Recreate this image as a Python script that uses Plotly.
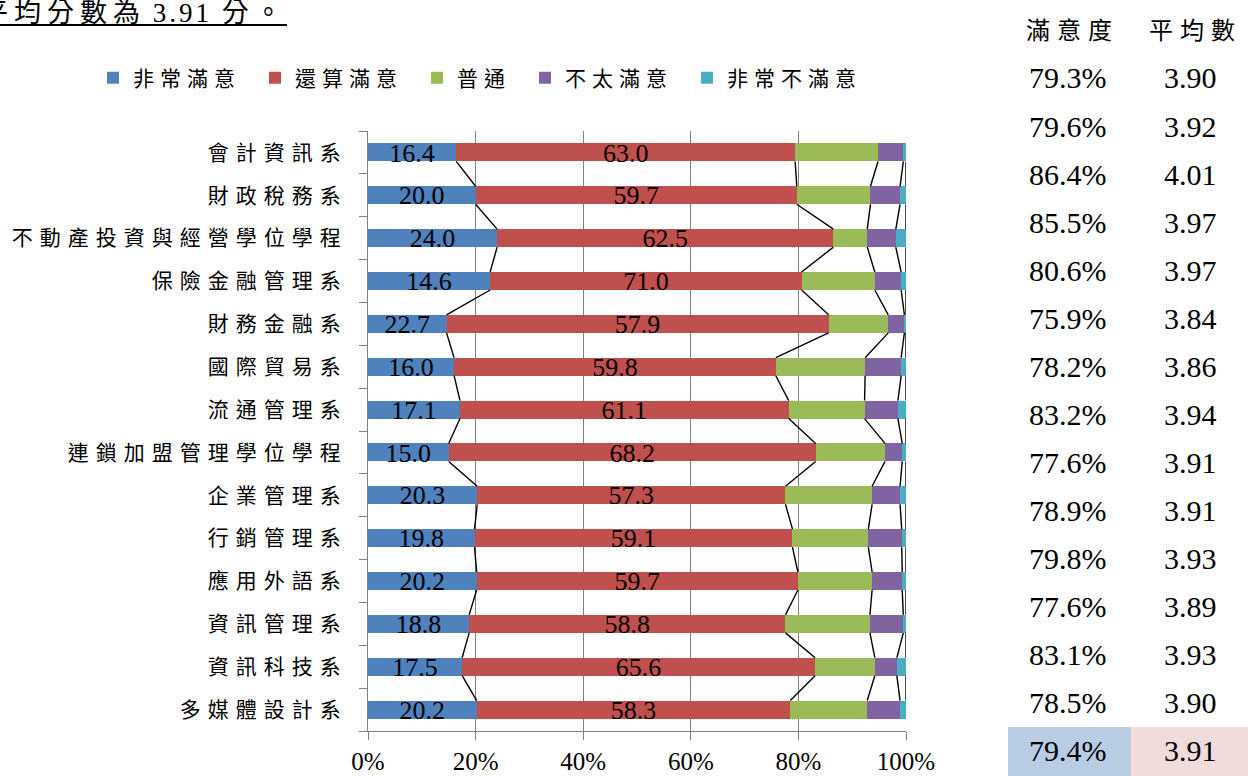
import numpy as np
import plotly.graph_objects as go

# ---------------- data ----------------
categories = ['會計資訊系', '財政稅務系', '不動產投資與經營學位學程', '保險金融管理系', '財務金融系',
              '國際貿易系', '流通管理系', '連鎖加盟管理學位學程', '企業管理系', '行銷管理系',
              '應用外語系', '資訊管理系', '資訊科技系', '多媒體設計系']
series_names = ['非常滿意', '還算滿意', '普通', '不太滿意', '非常不滿意']

very_satisfied = [16.4, 20.0, 24.0, 22.7, 14.6, 16.0, 17.1, 15.0, 20.3, 19.8, 20.2, 18.8, 17.5, 20.2]
fairly_satisfied = [63.0, 59.7, 62.5, 57.9, 71.0, 59.8, 61.1, 68.2, 57.3, 59.1, 59.7, 58.8, 65.6, 58.3]
neutral = [15.4, 13.7, 6.3, 13.6, 11.1, 16.6, 14.1, 12.9, 16.1, 14.1, 13.8, 15.7, 11.1, 14.3]
unsatisfied = [4.7, 5.5, 5.3, 4.9, 3.0, 6.7, 6.2, 3.2, 5.2, 6.2, 5.6, 6.2, 4.1, 6.1]
very_unsatisfied = [0.5, 1.1, 1.9, 0.9, 0.3, 0.9, 1.5, 0.7, 1.1, 0.8, 0.7, 0.5, 1.7, 1.1]

# data labels exactly as printed on the chart
label_very_satisfied = ['16.4', '20.0', '24.0', '14.6', '22.7', '16.0', '17.1', '15.0', '20.3', '19.8', '20.2', '18.8', '17.5', '20.2']
label_fairly_satisfied = ['63.0', '59.7', '62.5', '71.0', '57.9', '59.8', '61.1', '68.2', '57.3', '59.1', '59.7', '58.8', '65.6', '58.3']

x_ticks = [0, 20, 40, 60, 80, 100]
x_tick_labels = ['0%', '20%', '40%', '60%', '80%', '100%']

# side table
table_headers = ['滿意度', '平均數']
satisfaction_rate = [79.3, 79.6, 86.4, 85.5, 80.6, 75.9, 78.2, 83.2, 77.6, 78.9, 79.8, 77.6, 83.1, 78.5]
mean_score = [3.90, 3.92, 4.01, 3.97, 3.97, 3.84, 3.86, 3.94, 3.91, 3.91, 3.93, 3.89, 3.93, 3.90]
overall_rate = 79.4
overall_mean = 3.91
title_parts = ['平均分數', '為', ' 3.91 ', '分。']

colors = ['#4F81BD', '#C0504D', '#9BBB59', '#8064A2', '#4BACC6']

# ---------------- layout constants ----------------
W, H = 1248, 776
L, R, T, B = 368, 342, 131, 45
PW, PH = W - L - R, H - T - B
GRID = '#808080'
CJK = 'Noto Sans CJK TC'
SERIF = 'Liberation Serif, Noto Sans CJK TC'
bw = 0.42


def px_x(px):
    return (px - L) / PW


def px_y(py):
    return (H - B - py) / PH


def spaced(s, sp=6):
    return f"<span style='letter-spacing:{sp}px'>{s}</span>"


def legend_name(s, sp=6, extra=9):
    return spaced(s[:-1], sp) + spaced(s[-1], sp + extra)


ypos = list(range(len(categories)))
series = [very_satisfied, fairly_satisfied, neutral, unsatisfied, very_unsatisfied]

fig = go.Figure()
for name, vals, col in zip(series_names, series, colors):
    fig.add_trace(go.Bar(
        y=ypos, x=vals, orientation='h', width=bw, name=legend_name(name),
        marker=dict(color=col, line=dict(width=0)), hoverinfo='skip'))

# series lines connecting segment boundaries
cum = np.cumsum(np.array(series), axis=0)
xs, ys = [], []
for k in range(cum.shape[0]):
    for i in range(len(categories) - 1):
        xs += [cum[k][i], cum[k][i + 1], None]
        ys += [i + bw / 2, i + 1 - bw / 2, None]
fig.add_trace(go.Scatter(x=xs, y=ys, mode='lines', line=dict(color='black', width=1.4),
                         showlegend=False, hoverinfo='skip'))

# data labels centered in the first two segments
mid_blue = [v / 2 for v in very_satisfied]
mid_red = [a + b / 2 for a, b in zip(very_satisfied, fairly_satisfied)]
fig.add_trace(go.Scatter(
    x=mid_blue + mid_red, y=[y + 0.06 for y in ypos] * 2, mode='text',
    text=label_very_satisfied + label_fairly_satisfied,
    textfont=dict(family='Liberation Serif', size=26, color='black'),
    showlegend=False, hoverinfo='skip'))

annotations = []
shapes = []

# title (cut off at the left edge)
title_html = (spaced(title_parts[0], 6) + spaced(title_parts[1], 3) +
              spaced(title_parts[2], 3) + spaced(title_parts[3], 6))
annotations.append(dict(xref='paper', yref='paper', x=px_x(290), y=px_y(13), xanchor='right', yanchor='middle',
                        text=title_html, showarrow=False,
                        font=dict(family=SERIF, size=27, color='black')))
shapes.append(dict(type='line', xref='paper', yref='paper', x0=px_x(0), x1=px_x(287),
                   y0=px_y(25), y1=px_y(25), line=dict(color='black', width=2)))

# side table background for overall row
shapes.append(dict(type='rect', xref='paper', yref='paper', x0=px_x(1008), x1=px_x(1131),
                   y0=px_y(727), y1=px_y(776), fillcolor='#B8CCE4', line=dict(width=0), layer='below'))
shapes.append(dict(type='rect', xref='paper', yref='paper', x0=px_x(1131), x1=px_x(1248),
                   y0=px_y(727), y1=px_y(776), fillcolor='#F2DCDB', line=dict(width=0), layer='below'))

col_x = [1068, 1190]
for hx, htxt in zip([1072, 1195], table_headers):
    annotations.append(dict(xref='paper', yref='paper', x=px_x(hx), y=px_y(28), xanchor='center', yanchor='middle',
                            text=spaced(htxt, 7), showarrow=False,
                            font=dict(family=CJK, size=24, color='black')))
rates = satisfaction_rate + [overall_rate]
means = mean_score + [overall_mean]
for k, (r_, m_) in enumerate(zip(rates, means)):
    py = 78 + k * 48.07
    annotations.append(dict(xref='paper', yref='paper', x=px_x(col_x[0]), y=px_y(py), xanchor='center',
                            yanchor='middle', text=f'{r_:.1f}%', showarrow=False,
                            font=dict(family='Liberation Serif', size=30, color='black')))
    annotations.append(dict(xref='paper', yref='paper', x=px_x(col_x[1]), y=px_y(py), xanchor='center',
                            yanchor='middle', text=f'{m_:.2f}', showarrow=False,
                            font=dict(family='Liberation Serif', size=30, color='black')))

fig.update_layout(
    width=W, height=H,
    margin=dict(l=L, r=R, t=T, b=B, autoexpand=False),
    paper_bgcolor='white', plot_bgcolor='white',
    barmode='stack', bargap=0,
    showlegend=True,
    legend=dict(orientation='h', x=px_x(93), y=px_y(78), xanchor='left', yanchor='middle',
                font=dict(family=CJK, size=21, color='black'), traceorder='normal',
                itemclick=False, itemdoubleclick=False, bgcolor='rgba(0,0,0,0)'),
    xaxis=dict(range=[0, 100], tickmode='array', tickvals=x_ticks, ticktext=x_tick_labels,
               ticks='outside', ticklen=8, tickcolor=GRID, tickwidth=1, ticklabelstandoff=0,
               showgrid=True, gridcolor=GRID, gridwidth=1, zeroline=False,
               showline=True, linecolor=GRID, linewidth=1,
               tickfont=dict(family='Liberation Serif', size=25, color='black'), fixedrange=True),
    yaxis=dict(range=[len(categories) - 0.5, -0.5], tickmode='array', tickvals=ypos,
               ticktext=[spaced(c, 7) for c in categories], ticks='', ticklabelstandoff=15,
               minor=dict(tickmode='array', tickvals=[i - 0.5 for i in range(len(categories) + 1)],
                          ticks='outside', ticklen=8, tickcolor=GRID, tickwidth=1, showgrid=False),
               showgrid=False, zeroline=False, showline=True, linecolor=GRID, linewidth=1,
               tickfont=dict(family=CJK, size=21, color='black'), fixedrange=True),
    annotations=annotations, shapes=shapes,
)

fig.write_html('out.html', config={'displayModeBar': False},
               post_script="document.body.style.margin='0';document.body.style.padding='0';"
                           "document.documentElement.style.overflow='hidden';")
